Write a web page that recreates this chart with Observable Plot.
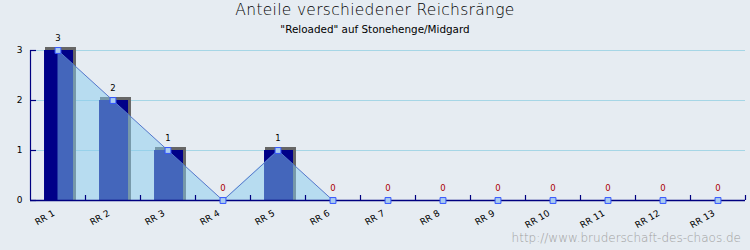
<!DOCTYPE html>
<html>
<head>
<meta charset="utf-8">
<script src="https://cdn.jsdelivr.net/npm/d3@7"></script>
<script src="https://cdn.jsdelivr.net/npm/@observablehq/plot@0.6"></script>
<style>
  html, body { margin: 0; padding: 0; background: #e6ecf2; }
  #wrap { position: relative; width: 750px; height: 250px; overflow: hidden; background: #e6ecf2; }
  #wrap svg { position: absolute; left: 0; top: 0; }
  .ttl { position: absolute; left: 0; width: 750px; text-align: center; font-family: "DejaVu Sans", sans-serif; white-space: nowrap; }
  #title { top: 1px; font-size: 15.5px; font-weight: 200; color: #000; letter-spacing: 0.3px; }
  #subtitle { top: 23px; font-size: 10.4px; color: #000; }
  #credit { position: absolute; right: 9px; top: 231px; font-family: "DejaVu Sans", sans-serif; font-size: 12px; color: #a0a0a0; font-weight: 300; white-space: nowrap; }
</style>
</head>
<body>
<div id="wrap">
  <div id="title" class="ttl"></div>
  <div id="subtitle" class="ttl"></div>
  <div id="credit"></div>
</div>
<script>
const titleText = "Anteile verschiedener Reichsränge";
const subtitleText = "\"Reloaded\" auf Stonehenge/Midgard";
const creditText = "http://www.bruderschaft-des-chaos.de";
const categories = ["RR 1","RR 2","RR 3","RR 4","RR 5","RR 6","RR 7","RR 8","RR 9","RR 10","RR 11","RR 12","RR 13"];
const values = [3, 2, 1, 0, 1, 0, 0, 0, 0, 0, 0, 0, 0];
const yTicks = [0, 1, 2, 3];

document.getElementById("title").textContent = titleText;
document.getElementById("subtitle").textContent = subtitleText;
document.getElementById("credit").textContent = creditText;

const data = categories.map((c, i) => ({cat: c, i, v: values[i]}));
const bounds = categories.map((c, i) => i + 0.5);
const n = categories.length;

const chart = Plot.plot({
  width: 750,
  height: 250,
  marginLeft: 30,
  marginRight: 5,
  marginTop: 50,
  marginBottom: 50,
  style: {background: "transparent", fontFamily: "DejaVu Sans, sans-serif"},
  x: {type: "linear", domain: [-0.5, n - 0.5], axis: null},
  y: {domain: [0, 3], axis: null},
  marks: [
    // grid
    Plot.ruleY(yTicks.filter(d => d > 0), {stroke: "#a6d6e6", strokeWidth: 1}),
    // bar shadows
    Plot.rectY(data.filter(d => d.v > 0), {x1: d => d.i - 0.227, x2: d => d.i + 0.336, y1: 0, y2: "v", insetTop: -3, fill: "#666666"}),
    // bars
    Plot.rectY(data.filter(d => d.v > 0), {x1: d => d.i - 0.245, x2: d => d.i + 0.282, y1: 0, y2: "v", fill: "#000088"}),
    // area overlay
    Plot.areaY(data, {x: "i", y: "v", fill: "#88ccee", fillOpacity: 0.5}),
    Plot.lineY(data, {x: "i", y: "v", stroke: "#5577cc", strokeWidth: 1}),
    // axes
    Plot.ruleX([-0.5], {y1: 0, y2: 3, stroke: "#000080", strokeWidth: 1.2}),
    Plot.ruleY(yTicks, {x1: -0.5, x2: -0.5 + 6 / 55, stroke: "#000080", strokeWidth: 1.2}),
    Plot.ruleY([0], {stroke: "#000080", strokeWidth: 1.5}),
    Plot.ruleX(bounds, {y1: 0, y2: 0.1, stroke: "#000080", strokeWidth: 1.2}),
    Plot.text(yTicks, {x: -0.5, y: d => d, text: d => String(d), dx: -11, fontSize: 9, fill: "#000"}),
    // points
    Plot.dot(data, {x: "i", y: "v", symbol: "square", r: 3.3, fill: "#aaccee", stroke: "#3355ff", strokeWidth: 1}),
    // value labels
    Plot.text(data, {x: "i", y: "v", text: d => String(d.v), dy: -12, fontSize: 8.5, fill: d => d.v > 0 ? "#000" : "#aa0000"}),
    // x labels
    Plot.text(data, {x: "i", y: 0, text: "cat", rotate: -30, textAnchor: "end", dx: -4, dy: 12, fontSize: 9, fill: "#000"})
  ]
});
document.getElementById("wrap").prepend(chart);
</script>
</body>
</html>
